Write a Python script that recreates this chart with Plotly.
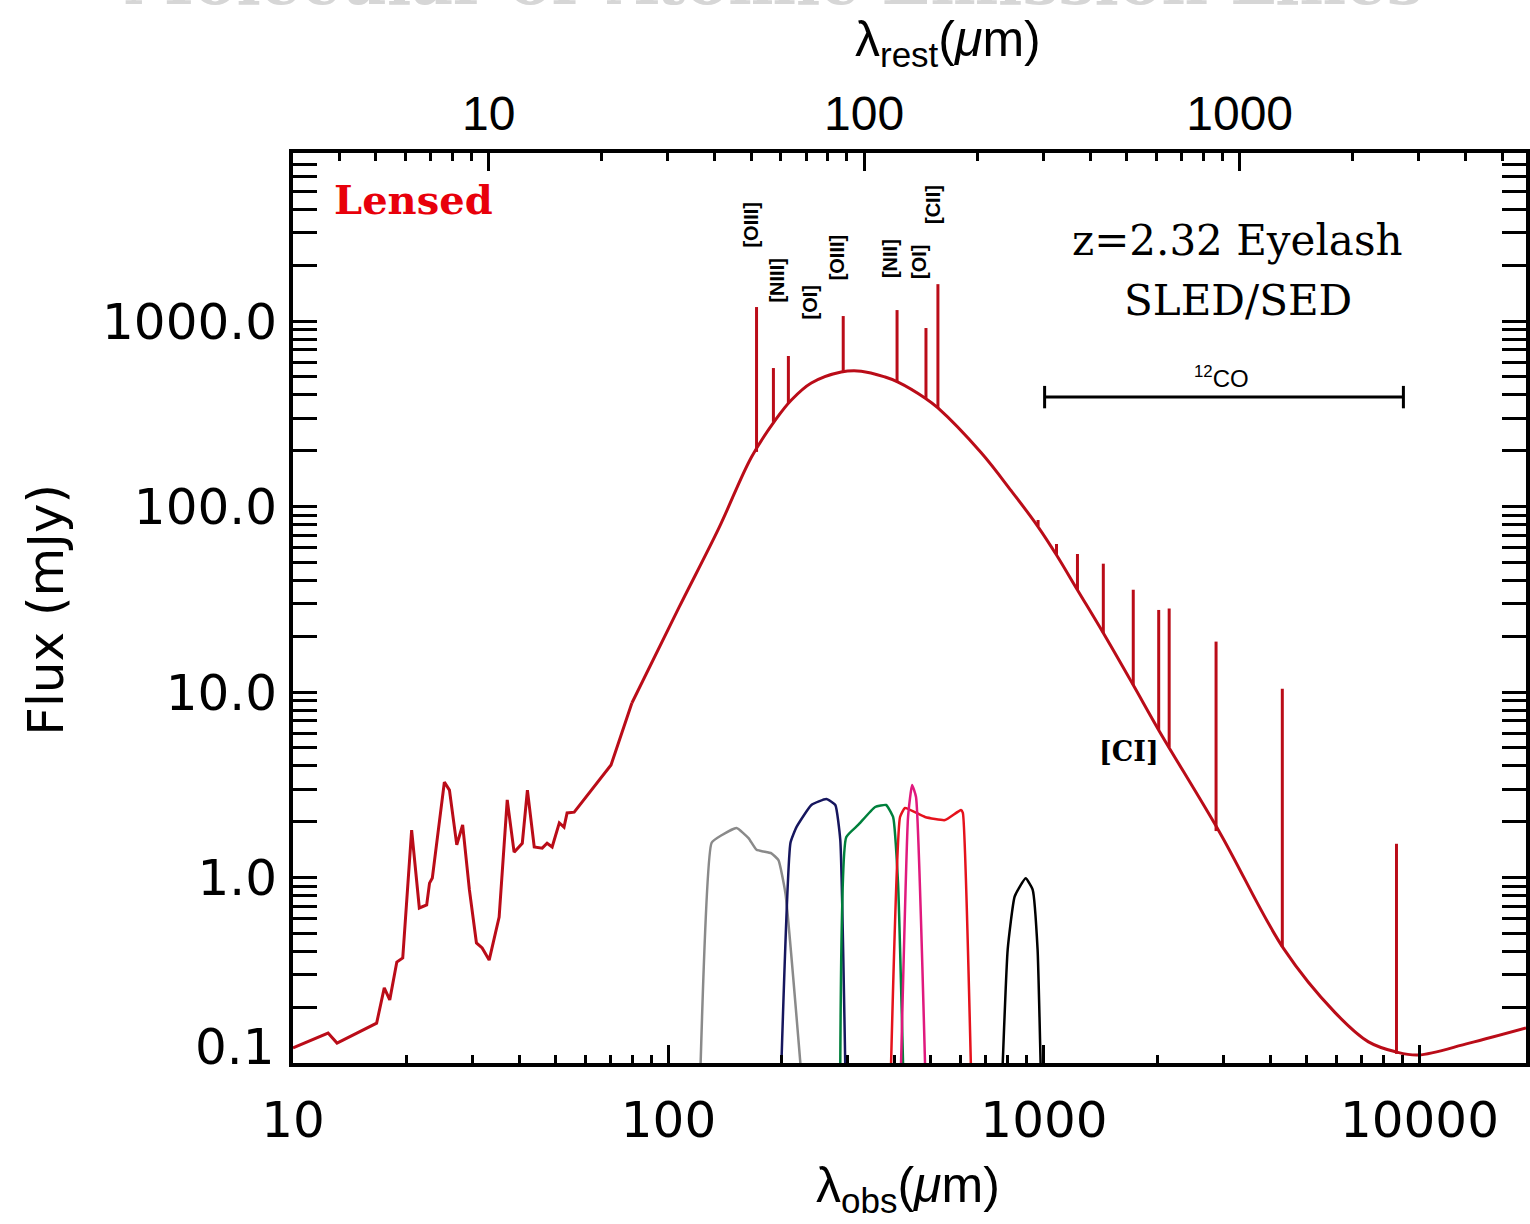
import numpy as np
import plotly.graph_objects as go

Z = 2.32  # redshift of the Eyelash

# ---------------- data (observed wavelength in micron, flux in mJy) ----------------
# mid-IR / PAH part of the SED
sed_pah_lam = [10.0, 11.1, 12.4, 13.1, 16.7, 17.5, 18.1, 18.9, 19.6, 20.7, 21.7, 22.7,
               23.1, 23.5, 25.3, 26.1, 27.3, 28.3, 29.5, 30.8, 31.9, 33.3, 35.4, 37.2,
               38.8, 40.8, 42.1, 43.9, 46.1, 47.5, 49.0, 51.2, 52.7, 53.7, 56.1, 70.3, 79.9]
sed_pah_flux = [0.1205, 0.1315, 0.145, 0.128, 0.164, 0.254, 0.219, 0.350, 0.368, 1.80, 0.685, 0.711,
                0.933, 0.994, 3.27, 2.96, 1.50, 1.92, 0.857, 0.444, 0.417, 0.359, 0.612, 2.62,
                1.37, 1.53, 2.96, 1.46, 1.44, 1.53, 1.46, 1.97, 1.87, 2.23, 2.25, 4.04, 8.73]

# far-IR / mm dust continuum
sed_dust_lam = [79.9, 106.5, 136.0, 166.4, 192.7, 212.5, 240.1, 288.4, 326.0, 377.5, 408.7,
                482.0, 521.9, 678.8, 815.3, 961.6, 1080, 1228, 1439, 1729, 2027, 2943, 4353,
                5944, 7316, 8685, 9933, 13570, 19220]
sed_dust_flux = [8.73, 28.4, 76.0, 185, 293, 375, 463, 531, 537, 499, 469,
                 385, 340, 196, 122.7, 78.5, 54.8, 35.5, 20.8, 10.9, 6.17, 1.74, 0.412,
                 0.188, 0.130, 0.1146, 0.1104, 0.128, 0.1545]

# fine-structure lines
fs_names = ["[OIII]", "[NIII]", "[OI]", "[OIII]", "[NII]", "[OI]", "[CII]"]
fs_lam = [171.6, 190.3, 208.6, 292.0, 406.2, 485.0, 521.9]
fs_base = [197, 286, 361, 531, 469, 385, 340]
fs_peak = [1190, 558, 648, 1064, 1146, 917, 1581]
fs_label_lam = [165.4, 195.1, 238.7, 281.6, 389.1, 464.6, 506.1]
fs_label_flux = [3293, 1663, 1266, 2213, 2159, 2080, 4272]

# CO ladder and [CI] lines
co_lam = [964.5, 1080, 1228, 1439, 1729, 2021, 2155, 2873, 4313, 8686]
co_base = [78.5, 54.8, 35.5, 20.8, 10.9, 6.24, 5.05, 1.78, 0.422, 0.112]
co_peak = [84.6, 62.8, 55.5, 49.2, 35.6, 27.7, 28.2, 18.7, 10.4, 1.52]

# 12CO range bar
co_bar_lam = [1004, 9063]
co_bar_flux = [389, 389]

# filter transmission curves (plotted in flux units)
f_gray_lam = [121.8, 130.3, 138.5, 151.8, 163.4, 171.6, 188.0, 196.3, 204.9, 224.5]
f_gray_val = [0.1, 1.54, 1.69, 1.85, 1.63, 1.41, 1.35, 1.24, 0.82, 0.1]
f_navy_lam = [199.9, 211.3, 219.2, 240.2, 263.2, 278.2, 286.8, 295.6]
f_navy_val = [0.1, 1.54, 1.87, 2.46, 2.65, 2.46, 1.59, 0.1]
f_green_lam = [286.8, 297.4, 320.1, 355.1, 379.8, 396.4, 408.7, 421.4]
f_green_val = [0.1, 1.65, 1.92, 2.40, 2.46, 2.12, 0.93, 0.1]
f_red_lam = [391.6, 413.7, 426.6, 482.2, 544.9, 600.8, 608.1, 638.6]
f_red_val = [0.1, 2.12, 2.37, 2.12, 2.04, 2.31, 2.23, 0.1]
f_pink_lam = [416.3, 434.5, 445.3, 456.3, 482.2]
f_pink_val = [0.1, 2.12, 3.15, 2.72, 0.1]
f_black_lam = [776.6, 800.6, 835.6, 893.8, 932.9, 961.6, 979.5]
f_black_val = [0.1, 0.41, 0.79, 0.99, 0.86, 0.41, 0.1]

x_ticks = [10, 100, 1000, 10000]
x_ticktext = ["10", "100", "1000", "10000"]
y_ticks = [0.1, 1, 10, 100, 1000]
y_ticktext = ["", "1.0", "10.0", "100.0", "1000.0"]
y_bottom_label = "0.1"
top_ticks = [10, 100, 1000]
top_ticktext = ["10", "100", "1000"]

# ---------------- figure ----------------
W, H = 1530, 1224
ML, MR, MT, MB = 293, 0, 153, 161
PW, PH = W - ML - MR, H - MT - MB

def px_x(p):
    return (p - ML) / PW

def px_y(p):
    return (H - MB - p) / PH

SED_COL = "#BA0C18"
fig = go.Figure()

filters = [(f_gray_lam, f_gray_val, "#8a8a8a"), (f_navy_lam, f_navy_val, "#16165e"),
           (f_green_lam, f_green_val, "#00803c"), (f_red_lam, f_red_val, "#e5121c"),
           (f_pink_lam, f_pink_val, "#e0197d"), (f_black_lam, f_black_val, "#000000")]
for lam, val, col in filters:
    fig.add_trace(go.Scatter(x=lam, y=val, mode="lines",
                             line=dict(color=col, width=2.5, shape="spline", smoothing=0.4),
                             showlegend=False, hoverinfo="skip"))

fig.add_trace(go.Scatter(x=sed_pah_lam, y=sed_pah_flux, mode="lines",
                         line=dict(color=SED_COL, width=3), showlegend=False))
fig.add_trace(go.Scatter(x=sed_dust_lam, y=sed_dust_flux, mode="lines",
                         line=dict(color=SED_COL, width=3, shape="spline", smoothing=1.0),
                         showlegend=False))

sx, sy = [], []
for lam, b, p in list(zip(fs_lam, fs_base, fs_peak)) + list(zip(co_lam, co_base, co_peak)):
    sx += [lam, lam, None]
    sy += [b, p, None]
fig.add_trace(go.Scatter(x=sx, y=sy, mode="lines", line=dict(color=SED_COL, width=3),
                         showlegend=False, connectgaps=False))

fig.add_trace(go.Scatter(x=co_bar_lam, y=co_bar_flux, mode="lines+markers",
                         line=dict(color="black", width=3),
                         marker=dict(symbol="line-ns", size=16, line=dict(color="black", width=3)),
                         showlegend=False))

# invisible trace to attach the rest-frame axis
fig.add_trace(go.Scatter(x=[10, 1000], y=[1, 1], xaxis="x2", mode="markers",
                         marker=dict(opacity=0), showlegend=False, hoverinfo="skip"))

tick_font = dict(family="DejaVu Sans", size=50, color="black")
minor_x = [m * 10 ** e for e in range(0, 5) for m in range(2, 10)]
minor_y = [m * 10 ** e for e in range(-1, 4) for m in range(2, 10)]

x_lo, x_hi = 1.0, 1.0 + PW / 376.7
fig.update_layout(
    width=W, height=H, margin=dict(l=ML, r=MR, t=MT, b=MB, pad=0),
    paper_bgcolor="white", plot_bgcolor="white",
    xaxis=dict(type="log", range=[x_lo, x_hi], showgrid=False, zeroline=False,
               showline=True, linecolor="black", linewidth=4, mirror=False,
               ticks="inside", ticklen=18, tickwidth=3, tickcolor="black",
               tickmode="array", tickvals=x_ticks, ticktext=x_ticktext,
               tickfont=tick_font, ticklabelstandoff=10,
               minor=dict(tickmode="array", tickvals=minor_x, ticks="inside",
                          ticklen=8, tickwidth=3, tickcolor="black", showgrid=False)),
    xaxis2=dict(type="log", overlaying="x", side="top",
                range=[x_lo - np.log10(1 + Z), x_hi - np.log10(1 + Z)],
                showgrid=False, zeroline=False, showline=True, linecolor="black", linewidth=4,
                ticks="inside", ticklen=18, tickwidth=3, tickcolor="black",
                tickmode="array", tickvals=top_ticks, ticktext=top_ticktext,
                tickfont=dict(family="Liberation Sans", size=48, color="black"),
                ticklabelstandoff=0,
                minor=dict(tickmode="array", tickvals=minor_x, ticks="inside",
                           ticklen=8, tickwidth=3, tickcolor="black", showgrid=False)),
    yaxis=dict(type="log", range=[-1, 3.906], showgrid=False, zeroline=False,
               showline=True, linecolor="black", linewidth=4, mirror="allticks",
               ticks="inside", ticklen=24, tickwidth=3, tickcolor="black",
               tickmode="array", tickvals=y_ticks, ticktext=y_ticktext,
               tickfont=tick_font, ticklabelstandoff=2,
               minor=dict(tickmode="array", tickvals=minor_y, ticks="inside",
                          ticklen=10, tickwidth=3, tickcolor="black", showgrid=False)),
)

ann = []
# faint cropped header
ann.append(dict(text="<b>Molecular or Atomic Emission Lines</b>", xref="paper", yref="paper",
                x=px_x(120), y=px_y(21), xanchor="left", yanchor="bottom", showarrow=False,
                font=dict(family="DejaVu Serif", size=64, color="#d6d6d6")))
# axis titles
ann.append(dict(text="λ<sub>rest</sub>(<i>μ</i>m)", xref="paper", yref="paper",
                x=px_x(950), y=px_y(43), xanchor="center", yanchor="middle", showarrow=False,
                font=dict(family="Liberation Sans", size=50, color="black")))
ann.append(dict(text="λ<sub>obs</sub>(<i>μ</i>m)", xref="paper", yref="paper",
                x=px_x(910), y=px_y(1188), xanchor="center", yanchor="middle", showarrow=False,
                font=dict(family="Liberation Sans", size=50, color="black")))
ann.append(dict(text="Flux (mJy)", xref="paper", yref="paper", textangle=-90,
                x=px_x(45), y=px_y(610), xanchor="center", yanchor="middle", showarrow=False,
                font=dict(family="DejaVu Sans", size=50, color="black")))
ann.append(dict(text=y_bottom_label, xref="paper", yref="paper",
                x=px_x(277), y=px_y(1047), xanchor="right", yanchor="middle", showarrow=False,
                font=tick_font))
# panel texts
ann.append(dict(text="<b>Lensed</b>", xref="paper", yref="paper",
                x=px_x(414), y=px_y(199), xanchor="center", yanchor="middle", showarrow=False,
                font=dict(family="DejaVu Serif", size=40, color="#e8000b")))
ann.append(dict(text="z=2.32 Eyelash", xref="paper", yref="paper",
                x=px_x(1241), y=px_y(240), xanchor="center", yanchor="middle", showarrow=False,
                font=dict(family="DejaVu Serif", size=42, color="black")))
ann.append(dict(text="SLED/SED", xref="paper", yref="paper",
                x=px_x(1241), y=px_y(300), xanchor="center", yanchor="middle", showarrow=False,
                font=dict(family="DejaVu Serif", size=42, color="black")))
ann.append(dict(text="<b>[CI]</b>", xref="paper", yref="paper",
                x=px_x(1132), y=px_y(751), xanchor="center", yanchor="middle", showarrow=False,
                font=dict(family="DejaVu Serif", size=27, color="black")))
ann.append(dict(text="<sup>12</sup>CO", xref="x", yref="y",
                x=np.log10(2979), y=np.log10(499), xanchor="center", yanchor="middle",
                showarrow=False, font=dict(family="Liberation Sans", size=24, color="black")))
for name, lx, ly in zip(fs_names, fs_label_lam, fs_label_flux):
    ann.append(dict(text="<b>" + name + "</b>", xref="x", yref="y",
                    x=np.log10(lx), y=np.log10(ly), textangle=-90,
                    xanchor="center", yanchor="middle", showarrow=False,
                    font=dict(family="Liberation Sans", size=20, color="black")))
fig.update_layout(annotations=ann)

fig.write_html("out.html")
